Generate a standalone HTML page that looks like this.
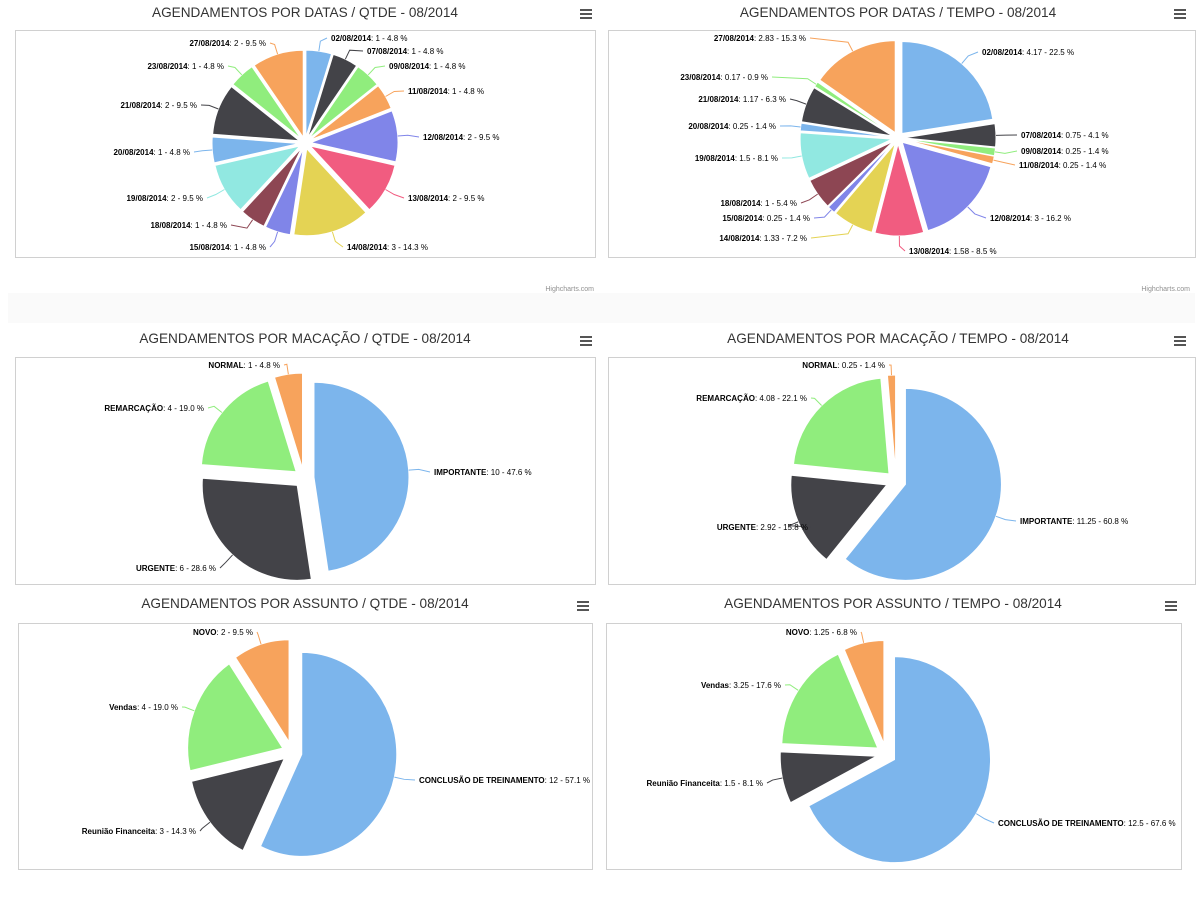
<!DOCTYPE html>
<html><head><meta charset="utf-8"><style>
body{margin:0;background:#fff;width:1200px;height:900px;overflow:hidden;font-family:"Liberation Sans",sans-serif}
svg{position:absolute;left:0;top:0}
</style></head><body>
<svg id="s" width="1200" height="900" xmlns="http://www.w3.org/2000/svg">
<rect x="8" y="293" width="1187" height="30" fill="#fafafa"/>
<text x="594" y="291" font-size="7" fill="#909090" text-anchor="end" font-family="Liberation Sans">Highcharts.com</text>
<text x="1190" y="291" font-size="7" fill="#909090" text-anchor="end" font-family="Liberation Sans">Highcharts.com</text>
</svg>
<script>
const C=['#7cb5ec','#434348','#90ed7d','#f7a35c','#8085e9','#f15c80','#e4d354','#8085e8','#8d4653','#91e8e1'];
const s=document.getElementById('s');let h='';
function box(x1,y1,x2,y2){h+=`<rect x="${x1+.5}" y="${y1+.5}" width="${x2-x1}" height="${y2-y1}" fill="#fff" stroke="#d0d0d0"/>`;}
function title(t,x,y){h+=`<text x="${x}" y="${y}" font-size="13.6" fill="#333" text-anchor="middle" font-family="Liberation Sans">${t}</text>`;}
function menu(x,y){for(let i=0;i<3;i++)h+=`<rect x="${x-6}" y="${y-4+i*4}" width="12" height="2" fill="#555"/>`;}
function pie(cx,cy,rx,ry,off,data){
 const tot=data.reduce((a,d)=>a+d[1],0);let a=-Math.PI/2;
 data.forEach((d,i)=>{
  const sp=d[1]/tot*2*Math.PI, m=a+sp/2;
  const ox=Math.cos(m)*off, oy=Math.sin(m)*off*ry/rx;
  const x0=cx+ox,y0=cy+oy;
  const p=(ang)=>[x0+Math.cos(ang)*rx,y0+Math.sin(ang)*ry];
  const [x1,y1]=p(a),[x2,y2]=p(a+sp);
  const col=C[i%10];
  h+=`<path d="M${x0},${y0}L${x1},${y1}A${rx},${ry} 0 ${sp>Math.PI?1:0} 1 ${x2},${y2}Z" fill="${col}" stroke="#fff" stroke-width="1"/>`;
  const [lx,ly,name,val,side]=d.slice(2);
  const [ex,ey]=p(m);
  const ax=side==='s'?lx-4:lx+4;
  const mx=x0+Math.cos(m)*(rx+10), my=y0+Math.sin(m)*(ry+10);
  h+=`<path d="M${ex},${ey}L${mx},${my}L${ax},${ly-3}" fill="none" stroke="${col}" stroke-width="1"/>`;
  h+=`<text x="${lx}" y="${ly}" font-size="8" fill="#000" text-anchor="${side==='s'?'start':'end'}" font-family="Liberation Sans"><tspan font-weight="bold">${name}</tspan>: ${val}</text>`;
  a+=sp;
 });
}
box(15,30,595,257);box(608,30,1195,257);box(15,357,595,584);box(608,357,1195,584);box(18,623,592,869);box(606,623,1181,869);
title('AGENDAMENTOS POR DATAS / QTDE - 08/2014',305,17);title('AGENDAMENTOS POR DATAS / TEMPO - 08/2014',898,17);
title('AGENDAMENTOS POR MACAÇÃO / QTDE - 08/2014',305,343);title('AGENDAMENTOS POR MACAÇÃO / TEMPO - 08/2014',898,343);
title('AGENDAMENTOS POR ASSUNTO / QTDE - 08/2014',305,608);title('AGENDAMENTOS POR ASSUNTO / TEMPO - 08/2014',893,608);
menu(586,13);menu(1180,13);menu(586,340);menu(1180,340);menu(583,605);menu(1171,605);
const D=(v,x,y,n,t,sd)=>['',v,x,y,n,t,sd];
pie(305,143,87,87,6,[D(1,331,41,'02/08/2014','1 - 4.8 %','s'),D(1,367,54,'07/08/2014','1 - 4.8 %','s'),D(1,389,69,'09/08/2014','1 - 4.8 %','s'),
D(1,408,94,'11/08/2014','1 - 4.8 %','s'),D(2,423,140,'12/08/2014','2 - 9.5 %','s'),D(2,408,201,'13/08/2014','2 - 9.5 %','s'),
D(3,347,250,'14/08/2014','3 - 14.3 %','s'),D(1,266,250,'15/08/2014','1 - 4.8 %','e'),D(1,227,228,'18/08/2014','1 - 4.8 %','e'),
D(2,203,201,'19/08/2014','2 - 9.5 %','e'),D(1,190,155,'20/08/2014','1 - 4.8 %','e'),D(2,197,108,'21/08/2014','2 - 9.5 %','e'),
D(1,224,69,'23/08/2014','1 - 4.8 %','e'),D(2,266,46,'27/08/2014','2 - 9.5 %','e')]);
pie(898,138,92,92,6,[D(4.17,982,55,'02/08/2014','4.17 - 22.5 %','s'),D(0.75,1021,138,'07/08/2014','0.75 - 4.1 %','s'),D(0.25,1021,154,'09/08/2014','0.25 - 1.4 %','s'),
D(0.25,1019,168,'11/08/2014','0.25 - 1.4 %','s'),D(3,990,221,'12/08/2014','3 - 16.2 %','s'),D(1.58,909,254,'13/08/2014','1.58 - 8.5 %','s'),
D(1.33,807,241,'14/08/2014','1.33 - 7.2 %','e'),D(0.25,810,221,'15/08/2014','0.25 - 1.4 %','e'),D(1,797,206,'18/08/2014','1 - 5.4 %','e'),
D(1.5,778,161,'19/08/2014','1.5 - 8.1 %','e'),D(0.25,776,129,'20/08/2014','0.25 - 1.4 %','e'),D(1.17,786,102,'21/08/2014','1.17 - 6.3 %','e'),
D(0.17,768,80,'23/08/2014','0.17 - 0.9 %','e'),D(2.83,806,41,'27/08/2014','2.83 - 15.3 %','e')]);
pie(304,478,95,95,10,[D(10,434,475,'IMPORTANTE','10 - 47.6 %','s'),D(6,216,571,'URGENTE','6 - 28.6 %','e'),D(4,204,411,'REMARCAÇÃO','4 - 19.0 %','e'),D(1,280,368,'NORMAL','1 - 4.8 %','e')]);
pie(896,481,96,96,10,[D(11.25,1020,524,'IMPORTANTE','11.25 - 60.8 %','s'),D(2.92,808,530,'URGENTE','2.92 - 15.8 %','e'),D(4.08,807,401,'REMARCAÇÃO','4.08 - 22.1 %','e'),D(0.25,885,368,'NORMAL','0.25 - 1.4 %','e')]);
pie(292,752,95,102,10,[D(12,419,783,'CONCLUSÃO DE TREINAMENTO','12 - 57.1 %','s'),D(3,196,834,'Reunião Financeita','3 - 14.3 %','e'),D(4,178,710,'Vendas','4 - 19.0 %','e'),D(2,253,635,'NOVO','2 - 9.5 %','e')]);
pie(886,754,96,103,10,[D(12.5,998,826,'CONCLUSÃO DE TREINAMENTO','12.5 - 67.6 %','s'),D(1.5,763,786,'Reunião Financeita','1.5 - 8.1 %','e'),D(3.25,781,688,'Vendas','3.25 - 17.6 %','e'),D(1.25,857,635,'NOVO','1.25 - 6.8 %','e')]);
s.insertAdjacentHTML('beforeend',h);
</script>
</body></html>
